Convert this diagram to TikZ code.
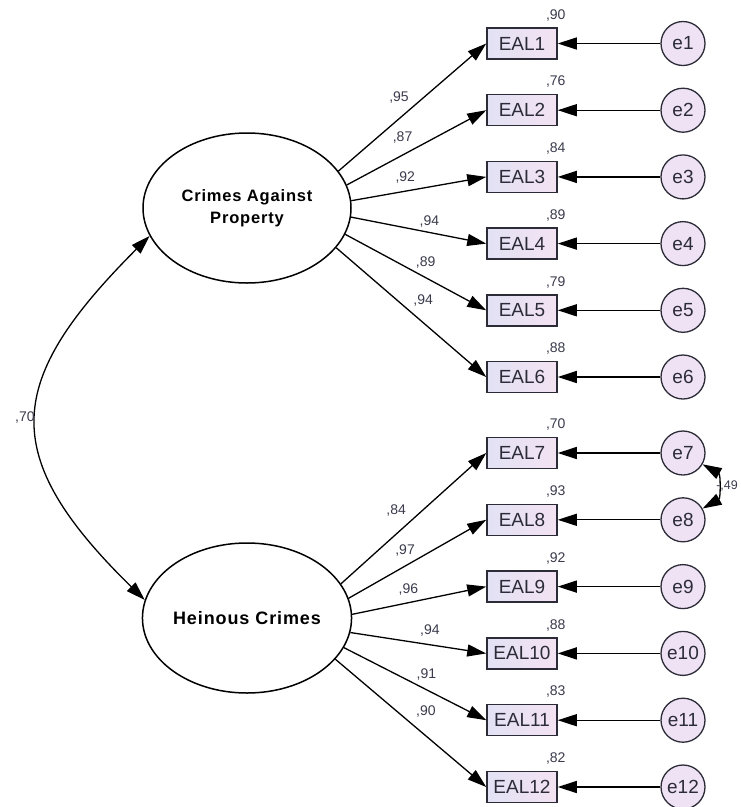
\documentclass[tikz,border=0pt]{standalone}
\usepackage{fontspec}
\setmainfont{Liberation Sans}
\newfontfamily\latfont{Liberation Sans}[LetterSpace=5]
\usetikzlibrary{arrows.meta,positioning,shapes.geometric}
\definecolor{BoxA}{HTML}{E2E2F4}
\definecolor{BoxB}{HTML}{F3E2F2}
\definecolor{ErrFill}{HTML}{EEE2F4}
\definecolor{CoefGrey}{HTML}{3A3A4C}
\definecolor{InkDark}{HTML}{2C2C38}

\begin{document}
\begin{tikzpicture}[x=1pt,y=-1pt,>={Triangle[length=19pt,width=12pt]},
  lat/.style={draw,ellipse,line width=1.5pt,fill=white,minimum width=208pt,minimum height=150pt,inner sep=0pt,align=center,font=\latfont\bfseries\fontsize{16.5}{22}\selectfont},
  obs/.style={draw=InkDark,line width=1.5pt,left color=BoxA,right color=BoxB,minimum width=70pt,minimum height=31pt,inner sep=0pt,text=InkDark,font=\fontsize{19}{19}\selectfont},
  err/.style={draw=InkDark,circle,line width=1.3pt,fill=ErrFill,minimum size=44pt,inner sep=0pt,text=InkDark,font=\fontsize{19}{19}\selectfont},
  coef/.style={inner sep=2pt,text=CoefGrey,font=\fontsize{14}{14}\selectfont},
  arr/.style={->,line width=1.3pt}]
  \useasboundingbox (0,0) rectangle (740,807);
  \node[lat] (cap) at (247,208) {Crimes Against\\Property};
  \node[lat,font=\latfont\bfseries\fontsize{18}{22}\selectfont] (hein) at (247,618) {Heinous Crimes};
  % indicators, errors and R2
  \foreach \i/\r in {1/90,2/76,3/84,4/89,5/79,6/88,7/70,8/93,9/92,10/88,11/83,12/82}{
    \pgfmathsetmacro\yy{ifthenelse(\i<7,43.5+66.7*(\i-1),453+66.8*(\i-7))}
    \node[obs] (eal\i) at (522,\yy) {EAL\i};
    \node[err] (e\i) at (683,\yy) {e\i};
    \node[coef,above=4pt of eal\i.north east,xshift=-2pt] (r\i) {,\r};
    \draw[arr] (e\i) -- (eal\i);
  }
  % loadings
  \foreach \i/\a/\p/\s/\v in {1/22/.41/13pt/95,2/13/.40/9pt/87,3/4/.40/5pt/92,4/-5/.58/3pt/94,5/-15/.57/7pt/89,6/-24/.58/14pt/94}
    \draw[arr] (cap.\a) -- (eal\i.west) node[coef,pos=\p,above=\s] {,\v};
  \foreach \i/\a/\p/\s/\v in {7/20/.38/15pt/84,8/11/.41/7pt/97,9/2/.42/5pt/96,10/-8/.585/6pt/94,11/-17/.58/7pt/91,12/-25/.60/16pt/90}
    \draw[arr] (hein.\a) -- (eal\i.west) node[coef,pos=\p,above=\s] {,\v};
  % covariances
  \draw[<->,line width=1.3pt] (cap.196) .. controls +(-145,145) and +(-148,-145) .. (hein.170) node[coef,midway,left] {,70};
  \draw[<->,line width=1.3pt] (e7.-30) .. controls +(18,10) and +(18,-10) .. (e8.30) node[coef,midway,right=-1pt,inner sep=0.5pt,font=\fontsize{12.5}{13}\selectfont] {-,49};
\end{tikzpicture}
\end{document}
